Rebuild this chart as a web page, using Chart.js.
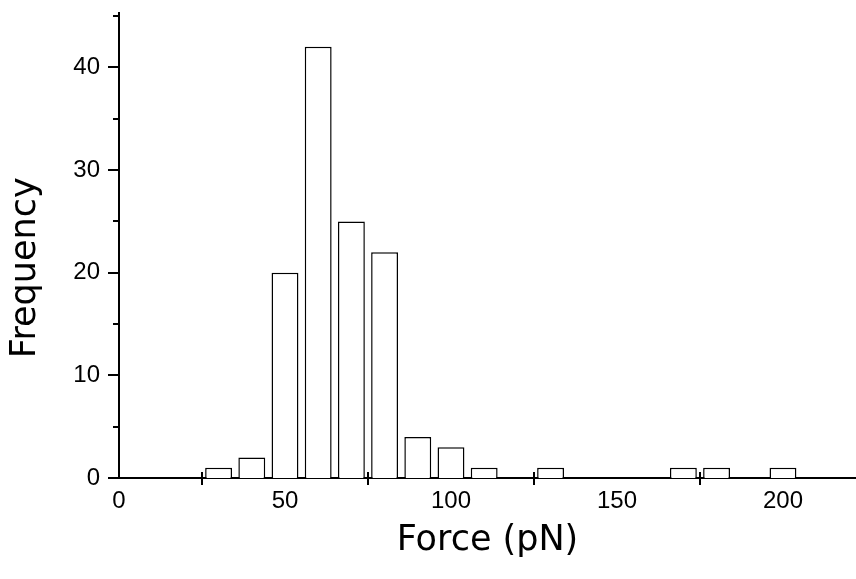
<!DOCTYPE html>
<html>
<head>
<meta charset="utf-8">
<script src="https://cdn.jsdelivr.net/npm/chart.js@4"></script>
<style>
  html, body { margin: 0; padding: 0; background: #fff; }
  #wrap { width: 856px; height: 579px; }
</style>
</head>
<body>
<div id="wrap"><canvas id="grafico"></canvas></div>
<script>
// datos del histograma //
const centrosBin = [30, 40, 50, 60, 70, 80, 90, 100, 110, 130, 170, 180, 200];
const frecuencias = [1, 2, 20, 42, 25, 22, 4, 3, 1, 1, 1, 1, 1];

// marcas de los ejes //
const ticksX = [0, 25, 50, 75, 100, 125, 150, 175, 200];
const ticksY = [0, 5, 10, 15, 20, 25, 30, 35, 40, 45];

const fuenteTicks = { family: "'Liberation Sans', Arial, sans-serif", size: 24 };
const fuenteTitulo = { family: "'DejaVu Sans', sans-serif", size: 35 };

// dibuja las marcas cortas / largas de los ejes //
const marcasEjes = {
  id: "marcasEjes",
  afterDraw(chart) {
    const ctx = chart.ctx;
    const x = chart.scales.x;
    const y = chart.scales.y;
    ctx.save();
    ctx.strokeStyle = "#000";
    ctx.lineWidth = 2;
    ctx.beginPath();
    ticksY.forEach(v => {
      const py = Math.round(y.getPixelForValue(v));
      const largo = v % 10 === 0 ? 11 : 6;
      ctx.moveTo(y.right, py);
      ctx.lineTo(y.right - largo, py);
    });
    ticksX.forEach(v => {
      if (v % 50 === 0) return;
      const px = Math.round(x.getPixelForValue(v));
      ctx.moveTo(px, x.top - 6);
      ctx.lineTo(px, x.top + 7);
    });
    ctx.stroke();
    ctx.restore();
  }
};

new Chart(document.getElementById("grafico"), {
  type: "bar",
  data: {
    datasets: [{
      data: centrosBin.map((c, i) => ({ x: c, y: frecuencias[i] })),
      backgroundColor: "#fff",
      borderColor: "#000",
      borderWidth: 1.5,
      barPercentage: 0.81,
      categoryPercentage: 1.0
    }]
  },
  options: {
    responsive: true,
    maintainAspectRatio: false,
    animation: false,
    layout: { padding: { top: 13, right: 0, bottom: 0, left: 0 } },
    plugins: { legend: { display: false }, tooltip: { enabled: false } },
    scales: {
      x: {
        type: "linear",
        min: 0,
        max: 222,
        offset: false,
        afterBuildTicks: (s) => { s.ticks = ticksX.map(v => ({ value: v })); },
        afterFit: (s) => { s.height = 101; s.paddingLeft = 0; s.paddingRight = 0; },
        grid: { display: false, drawTicks: false },
        border: { display: true, color: "#000", width: 2 },
        ticks: {
          padding: 9,
          color: "#000",
          font: fuenteTicks,
          maxRotation: 0,
          autoSkip: false,
          callback: (v) => (v % 50 === 0 ? String(v) : "")
        },
        title: { display: true, text: "Force (pN)", color: "#000", font: fuenteTitulo, padding: { top: 0, bottom: 17 } }
      },
      y: {
        min: 0,
        max: 45.3,
        afterBuildTicks: (s) => { s.ticks = ticksY.map(v => ({ value: v })); },
        afterFit: (s) => { s.width = 119; s.paddingTop = 0; s.paddingBottom = 0; },
        grid: { display: false, drawTicks: false },
        border: { display: true, color: "#000", width: 2 },
        ticks: {
          padding: 19,
          color: "#000",
          font: fuenteTicks,
          autoSkip: false,
          callback: (v) => (v % 10 === 0 ? String(v) : "")
        },
        // espacios al final para bajar un poco el titulo //
        title: { display: true, text: "Frequency    ", color: "#000", font: fuenteTitulo, padding: { top: 5, bottom: 0 } }
      }
    }
  },
  plugins: [marcasEjes]
});
</script>
</body>
</html>
